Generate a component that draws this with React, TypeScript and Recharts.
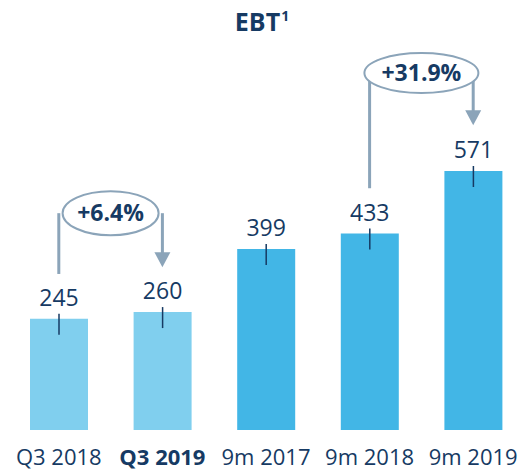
import React from 'react';
import { BarChart, Bar, XAxis, YAxis, Cell, LabelList, ReferenceLine } from 'recharts';

const categories = ['Q3 2018', 'Q3 2019', '9m 2017', '9m 2018', '9m 2019'];
const ebtValues = [245, 260, 399, 433, 571];
const periodTypes = ['quarter', 'quarter', 'nineMonths', 'nineMonths', 'nineMonths'];
const highlightedCategory = 'Q3 2019';

const changeFrom = ['Q3 2018', '9m 2018'];
const changeTo = ['Q3 2019', '9m 2019'];
const changeLabels = ['+6.4%', '+31.9%'];

const NAVY = '#163a63';
const CONNECTOR = '#8ba4b9';
const barColors: Record<string, string> = { quarter: '#80cfee', nineMonths: '#42b6e6' };
const FONT = '"Open Sans", sans-serif';

// bubble layout, in value units so it follows the y scale
const bubbleLevel = [478, 787];
const startLevel = [344, 533];
const arrowTipLevel = [359, 672];
const bubbleRx = [48, 57];
const bubbleRy = [22, 20];

const data = categories.map((name, i) => ({ name, value: ebtValues[i], period: periodTypes[i] }));

const ValueLabel = (props: any) => {
  const { x, y, width, value } = props;
  const cx = x + width / 2;
  return (
    <g>
      <text x={cx} y={y - 13} textAnchor="middle" fontSize={23} fill={NAVY} fontFamily={FONT}>
        {value}
      </text>
      <line x1={cx} x2={cx} y1={y - 5} y2={y + 16} stroke={NAVY} strokeWidth={1.5} />
    </g>
  );
};

const CategoryTick = (props: any) => {
  const { x, y, payload } = props;
  const bold = payload.value === highlightedCategory;
  return (
    <text
      x={x}
      y={y + 27}
      textAnchor="middle"
      fontSize={22}
      fill={NAVY}
      fontFamily={FONT}
      fontWeight={bold ? 700 : 400}
    >
      {payload.value}
    </text>
  );
};

const PlainLine = (props: any) => {
  const { x1, y1, x2, y2 } = props;
  return <line x1={x1} y1={y1} x2={x2} y2={y2} stroke={CONNECTOR} strokeWidth={3} />;
};

const ArrowLine = (props: any) => {
  const { x1, y1, x2, y2 } = props;
  const head = 15;
  return (
    <g>
      <line x1={x1} y1={y1} x2={x2} y2={y2 - head + 1} stroke={CONNECTOR} strokeWidth={3} />
      <polygon points={`${x2 - 8},${y2 - head} ${x2 + 8},${y2 - head} ${x2},${y2}`} fill={CONNECTOR} />
    </g>
  );
};

const makeBubble = (i: number) => (props: any) => {
  const { x1, y1, x2 } = props;
  const cx = (x1 + x2) / 2;
  return (
    <g>
      <ellipse cx={cx} cy={y1} rx={bubbleRx[i]} ry={bubbleRy[i]} fill="#ffffff" stroke={CONNECTOR} strokeWidth={2} />
      <text x={cx} y={y1 + 8} textAnchor="middle" fontSize={23} fontWeight={700} fill={NAVY} fontFamily={FONT}>
        {changeLabels[i]}
      </text>
    </g>
  );
};

export default function App() {
  return (
    <div style={{ position: 'absolute', left: 0, top: 0, width: 529, height: 471, background: '#fff' }}>
      <svg width={529} height={40} style={{ position: 'absolute', left: 0, top: 0, zIndex: 2 }}>
        <text x={262} y={31} textAnchor="middle" fontFamily={FONT} fontWeight={700} fontSize={25} fill={NAVY}>
          EBT
          <tspan dx={1} dy={-10} fontSize={14}>1</tspan>
        </text>
      </svg>
      <BarChart width={529} height={471} data={data} margin={{ top: 0, right: 4, left: 7, bottom: 0 }}>
        <XAxis dataKey="name" axisLine={false} tickLine={false} height={41} interval={0} tick={<CategoryTick />} />
        <YAxis hide domain={[0, 948]} />
        {changeFrom.map((from, i) => (
          <ReferenceLine
            key={`start-${i}`}
            segment={[{ x: from, y: startLevel[i] }, { x: from, y: bubbleLevel[i] }]}
            shape={<PlainLine />}
          />
        ))}
        {changeTo.map((to, i) => (
          <ReferenceLine
            key={`arrow-${i}`}
            segment={[{ x: to, y: bubbleLevel[i] }, { x: to, y: arrowTipLevel[i] }]}
            shape={<ArrowLine />}
          />
        ))}
        {changeFrom.map((from, i) => (
          <ReferenceLine
            key={`bubble-${i}`}
            segment={[{ x: from, y: bubbleLevel[i] }, { x: changeTo[i], y: bubbleLevel[i] }]}
            shape={makeBubble(i)}
          />
        ))}
        <Bar dataKey="value" barSize={58} isAnimationActive={false}>
          {data.map((d) => (
            <Cell key={d.name} fill={barColors[d.period]} />
          ))}
          <LabelList dataKey="value" content={<ValueLabel />} />
        </Bar>
      </BarChart>
    </div>
  );
}
